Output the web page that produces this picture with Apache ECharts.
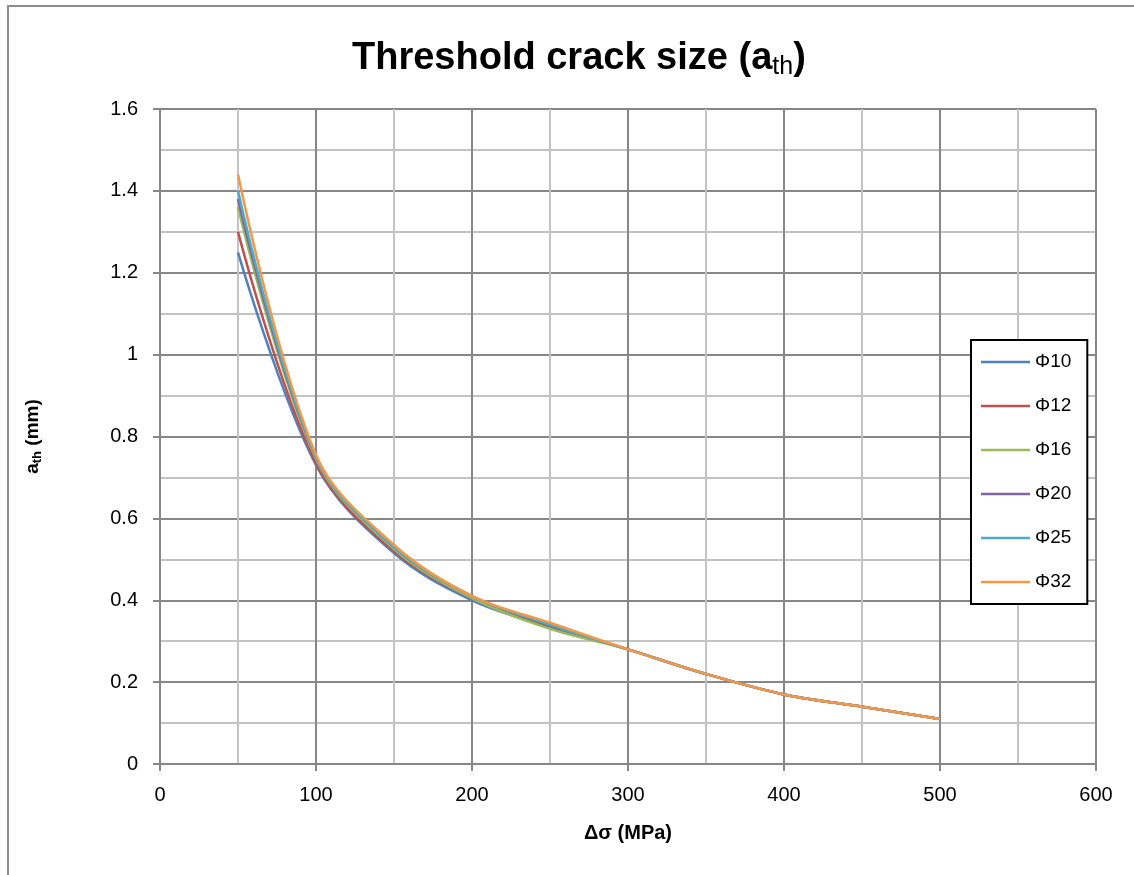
<!DOCTYPE html>
<html>
<head>
<meta charset="utf-8">
<script src="https://cdn.jsdelivr.net/npm/echarts@6/dist/echarts.min.js"></script>
<style>html,body{margin:0;padding:0;background:#fff}#c{width:1134px;height:875px}</style>
</head>
<body>
<div id="c"></div>
<script>
const stress = [50, 100, 150, 200, 250, 300, 350, 400, 450, 500];
const seriesNames = ['Φ10', 'Φ12', 'Φ16', 'Φ20', 'Φ25', 'Φ32'];
const phi10 = [1.25, 0.73, 0.515, 0.400, 0.335, 0.280, 0.220, 0.170, 0.140, 0.110];
const phi12 = [1.30, 0.735, 0.520, 0.405, 0.338, 0.280, 0.220, 0.170, 0.140, 0.110];
const phi16 = [1.36, 0.745, 0.525, 0.405, 0.330, 0.280, 0.220, 0.170, 0.140, 0.110];
const phi20 = [1.38, 0.750, 0.530, 0.410, 0.340, 0.280, 0.220, 0.170, 0.140, 0.110];
const phi25 = [1.40, 0.750, 0.530, 0.410, 0.340, 0.280, 0.220, 0.170, 0.140, 0.110];
const phi32 = [1.44, 0.755, 0.535, 0.410, 0.345, 0.280, 0.220, 0.170, 0.140, 0.110];
const colors = ['#4F81BD', '#C0504D', '#9BBB59', '#8064A2', '#4BACC6', '#F79646'];
const allValues = [phi10, phi12, phi16, phi20, phi25, phi32];

const FONT = 'Liberation Sans';
const chart = echarts.init(document.getElementById('c'));
chart.setOption({
  animation: false,
  color: colors,
  title: {
    text: '{m|Threshold crack size (a}{s|th}{m|)}',
    left: 347,
    top: 32,
    textStyle: {
      rich: {
        m: { fontFamily: FONT, fontWeight: 'bold', fontSize: 38, color: '#000' },
        s: { fontFamily: FONT, fontWeight: 'normal', fontSize: 25, color: '#000', verticalAlign: 'bottom', padding: [18, 0, 0, 0] }
      }
    }
  },
  graphic: [{
    type: 'rect',
    shape: { x: 8, y: 6, width: 1300, height: 1000 },
    style: { fill: 'none', stroke: '#8c8c8c', lineWidth: 2 },
    silent: true
  }],
  legend: {
    orient: 'vertical',
    left: 971,
    top: 340,
    data: seriesNames,
    icon: 'rect',
    itemWidth: 49,
    itemHeight: 2.5,
    itemGap: 22,
    padding: [11, 16, 11, 10],
    borderColor: '#000',
    borderWidth: 2,
    backgroundColor: '#fff',
    textStyle: { fontFamily: FONT, fontSize: 19, color: '#000', lineHeight: 22 }
  },
  grid: { left: 160, right: 38, top: 109, bottom: 111 },
  xAxis: {
    type: 'value',
    min: 0, max: 600, interval: 100,
    name: 'Δσ (MPa)',
    nameLocation: 'middle',
    nameGap: 59,
    nameTextStyle: { fontFamily: FONT, fontWeight: 'bold', fontSize: 20, color: '#000' },
    axisLine: { show: true, lineStyle: { color: '#878787', width: 2 } },
    axisTick: { show: true, length: 7, lineStyle: { color: '#878787', width: 2 } },
    axisLabel: { fontFamily: FONT, fontSize: 20, color: '#000', margin: 21 },
    splitLine: { show: true, lineStyle: { color: '#878787', width: 2 } },
    minorTick: { show: false, splitNumber: 2 },
    minorSplitLine: { show: true, lineStyle: { color: '#c3c3c3', width: 2 } }
  },
  yAxis: {
    type: 'value',
    min: 0, max: 1.6, interval: 0.2,
    name: '{m|a}{s|th}{m| (mm)}',
    nameLocation: 'middle',
    nameGap: 116,
    nameTextStyle: {
      rich: {
        m: { fontFamily: FONT, fontWeight: 'bold', fontSize: 19, color: '#000' },
        s: { fontFamily: FONT, fontWeight: 'bold', fontSize: 13, color: '#000', verticalAlign: 'bottom', padding: [9, 0, 0, 0] }
      }
    },
    axisLine: { show: true, lineStyle: { color: '#878787', width: 2 } },
    axisTick: { show: true, length: 7, lineStyle: { color: '#878787', width: 2 } },
    axisLabel: { fontFamily: FONT, fontSize: 20, color: '#000', margin: 22 },
    splitLine: { show: true, lineStyle: { color: '#878787', width: 2 } },
    minorTick: { show: false, splitNumber: 2 },
    minorSplitLine: { show: true, lineStyle: { color: '#c3c3c3', width: 2 } }
  },
  series: seriesNames.map((n, i) => ({
    name: n,
    type: 'line',
    smooth: 0.35,
    showSymbol: false,
    symbol: 'none',
    lineStyle: { width: 2.5, color: colors[i] },
    data: stress.map((x, j) => [x, allValues[i][j]])
  }))
});
</script>
</body>
</html>
